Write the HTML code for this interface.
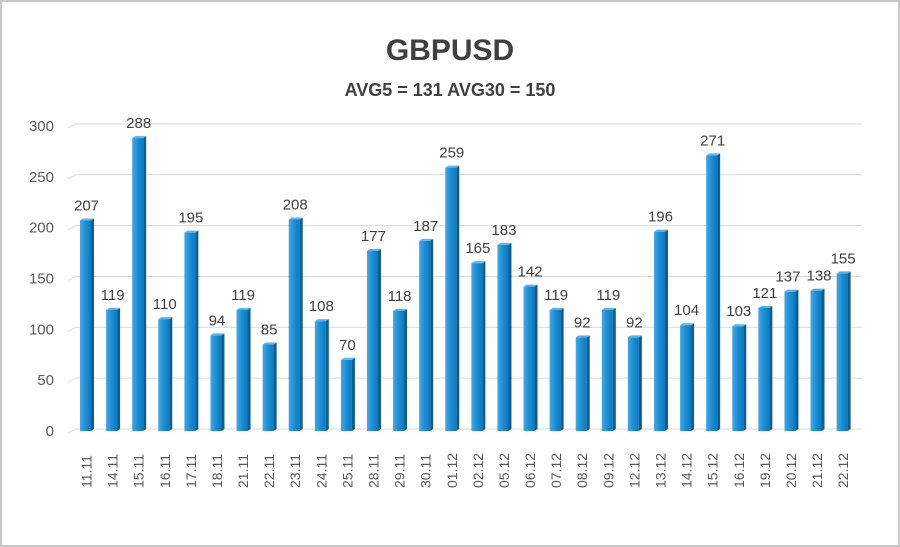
<!DOCTYPE html>
<html><head><meta charset="utf-8"><style>
html,body{margin:0;padding:0;background:#fff}
svg{display:block;font-family:"Liberation Sans",sans-serif}
</style></head><body>
<svg width="900" height="547" viewBox="0 0 900 547">
<defs>
<linearGradient id="g" x1="0" x2="1" y1="0" y2="0">
<stop offset="0" stop-color="#4aa6e0"/><stop offset="0.5" stop-color="#1a8fd6"/><stop offset="1" stop-color="#0d78bd"/>
</linearGradient>
</defs>
<rect x="1" y="1" width="898" height="545" fill="#fff" stroke="#c8c8c8" stroke-width="2"/>
<text x="450" y="60" text-anchor="middle" font-size="30" font-weight="bold" fill="#404040">GBPUSD</text>
<text x="450" y="96" text-anchor="middle" font-size="18" font-weight="bold" fill="#404040">AVG5 = 131 AVG30 = 150</text>
<g id="grid" stroke="#d9d9d9" stroke-width="1" fill="none"></g>
<g id="yl" font-size="15" fill="#595959" text-anchor="end"></g>
<g id="bars"></g>
<g id="vl" font-size="15" fill="#404040" text-anchor="middle"></g>
<g id="xl" font-size="14" fill="#595959"></g>
</svg>
<script>
var v=[207,119,288,110,195,94,119,85,208,108,70,177,118,187,259,165,183,142,119,92,119,92,196,104,271,103,121,137,138,155];
var d=["11.11","14.11","15.11","16.11","17.11","18.11","21.11","22.11","23.11","24.11","25.11","28.11","29.11","30.11","01.12","02.12","05.12","06.12","07.12","08.12","09.12","12.12","13.12","14.12","15.12","16.12","19.12","20.12","21.12","22.12"];
var ns="http://www.w3.org/2000/svg";
function el(t,a,p,txt){var e=document.createElementNS(ns,t);for(var k in a)e.setAttribute(k,a[k]);if(txt!=null)e.textContent=txt;document.getElementById(p).appendChild(e);return e;}
var base=431,s=1.017;
for(var i=0;i<=6;i++){var y=base-i*50*s;
el("path",{d:"M68 "+(y+2)+" L76 "+(y-2)+" L862 "+(y-2)},"grid");
el("text",{x:54,y:y+5},"yl",i*50);}
for(var i=0;i<30;i++){var cx=86.5+i*26.09,h=v[i]*s,y=base-h;
el("rect",{x:cx-6.5,y:y,width:11,height:h,fill:"url(#g)"},"bars");
el("path",{d:"M"+(cx+4.5)+" "+y+" l3 -2 v"+h+" l-3 2z",fill:"#0a5e94"},"bars");
el("path",{d:"M"+(cx-6.5)+" "+y+" l3 -2 h11 l-3 2z",fill:"#5ab4ea"},"bars");
var lx=cx;if(i==27)lx=cx-3;if(i==28)lx=cx+2;
el("text",{x:lx,y:y-10},"vl",v[i]);
el("text",{x:0,y:0,transform:"translate("+(cx+5)+",488) rotate(-90)"},"xl",d[i]);}
</script>
</body></html>
